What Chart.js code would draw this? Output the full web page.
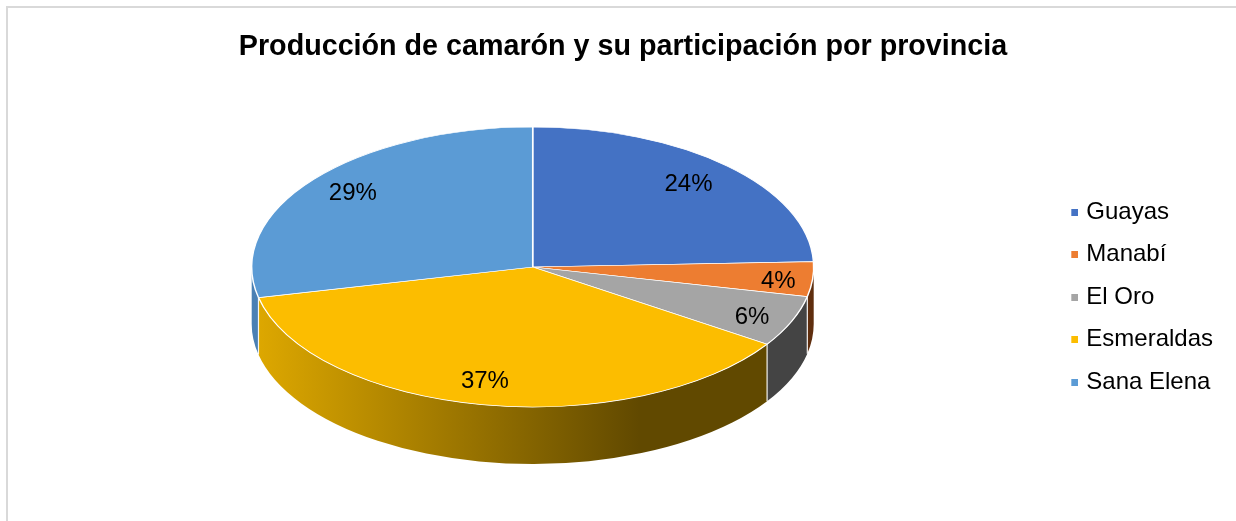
<!DOCTYPE html>
<html lang="es">
<head>
    <meta charset="UTF-8">
    <title>Producción de camarón</title>
    <script src="https://cdn.jsdelivr.net/npm/chart.js"></script>
    <style>
        html, body { margin: 0; padding: 0; background: white; overflow: hidden; }
        #frame { position: absolute; left: 6px; top: 6px; width: 1300px; height: 600px; border: 2px solid #d9d9d9; }
        #pie { position: absolute; left: 0; top: 0; }
    </style>
</head>
<body>
    <div id="frame"></div>
    <canvas id="pie" width="1236" height="521"></canvas>

    <script>
        const titleText = 'Producción de camarón y su participación por provincia';
        const provinces = ['Guayas', 'Manabí', 'El Oro', 'Esmeraldas', 'Sana Elena'];
        const shares = [24.4, 4.0, 5.9, 37.2, 28.5];
        const topColors = ['#4472c4', '#ed7d31', '#a5a5a5', '#fcbd00', '#5b9bd5'];
        const sideColors = ['#2a4578', '#5f2e0e', '#444444', null, '#4a80b4'];

        const fontName = '"Liberation Sans", Arial, sans-serif';
        const squash = 140 / 281;   // the pie is laid flat by scaling y
        const depth = 57;     // height of the rim
        const pieX = 532.7;   // where the centre of the flat pie ends up
        const pieY = 267;
        const labelShift = [[-4, -3], [16, 1], [7, 3], [-6, -2], [0, -5]];

        // legend marker: small square, sits at the right of a wider clear image
        function legendMarker(color) {
            const c = document.createElement('canvas');
            c.width = 13;
            c.height = 7;
            const g = c.getContext('2d');
            g.fillStyle = color;
            g.fillRect(6, 0, 7, 7);
            return c;
        }

        const pie3d = {
            id: 'pie3d',
            beforeDatasetsDraw(chart) {
                const ctx = chart.ctx;
                const arcs = chart.getDatasetMeta(0).data;
                const r = arcs[0].outerRadius;
                const ry = r * squash;

                // rim first, only the front half of the ellipse shows
                arcs.forEach((arc, i) => {
                    const a0 = Math.max(arc.startAngle, 0);
                    const a1 = Math.min(arc.endAngle, Math.PI);
                    if (a1 <= a0) return;
                    let fill = sideColors[i];
                    if (!fill) {
                        fill = ctx.createLinearGradient(pieX - r, 0, pieX + r * 0.84, 0);
                        fill.addColorStop(0, '#dfa900');
                        fill.addColorStop(0.75, '#614900');
                        fill.addColorStop(1, '#614900');
                    }
                    ctx.beginPath();
                    ctx.ellipse(pieX, pieY + depth, r, ry, 0, a0, a1, false);
                    ctx.ellipse(pieX, pieY, r, ry, 0, a1, a0, true);
                    ctx.closePath();
                    ctx.fillStyle = fill;
                    ctx.fill();
                });
                ctx.strokeStyle = 'rgba(255,255,255,0.9)';
                ctx.lineWidth = 1.2;
                arcs.forEach((arc) => {
                    const a = arc.endAngle;
                    if (a <= 0 || a >= Math.PI) return;
                    const x = pieX + r * Math.cos(a);
                    const y = pieY + ry * Math.sin(a);
                    ctx.beginPath();
                    ctx.moveTo(x, y);
                    ctx.lineTo(x, y + depth);
                    ctx.stroke();
                });

                ctx.save();
                ctx.translate(pieX - arcs[0].x, pieY);
                ctx.scale(1, squash);
                ctx.translate(0, -arcs[0].y);
            },
            afterDatasetsDraw(chart) {
                const ctx = chart.ctx;
                ctx.restore();

                const arcs = chart.getDatasetMeta(0).data;
                ctx.save();
                ctx.fillStyle = '#000000';
                ctx.font = '24px ' + fontName;
                ctx.textAlign = 'center';
                ctx.textBaseline = 'middle';
                arcs.forEach((arc, i) => {
                    const mid = (arc.startAngle + arc.endAngle) / 2;
                    const x = pieX + arc.outerRadius * 0.82 * Math.cos(mid);
                    const y = pieY + arc.outerRadius * squash * 0.82 * Math.sin(mid);
                    ctx.fillText(Math.round(shares[i]) + '%', x + labelShift[i][0], y + 3 + labelShift[i][1]);
                });
                ctx.restore();
            }
        };

        new Chart(document.getElementById('pie'), {
            type: 'pie',
            data: {
                labels: provinces,
                datasets: [{
                    data: shares,
                    backgroundColor: topColors,
                    borderColor: '#ffffff',
                    borderWidth: 1.5,
                    radius: 281,
                    clip: false
                }]
            },
            options: {
                responsive: false,
                animation: false,
                layout: { padding: { left: 23, right: 13 } },
                plugins: {
                    title: {
                        display: true,
                        text: titleText,
                        color: '#000000',
                        font: { family: fontName, size: 28.7, weight: 'bold' },
                        padding: { top: 30, bottom: 8.6 }
                    },
                    legend: {
                        position: 'right',
                        fullSize: false,
                        labels: {
                            color: '#000000',
                            font: { family: fontName, size: 24 },
                            usePointStyle: true,
                            boxWidth: 5,
                            boxHeight: 7,
                            pointStyleWidth: 5,
                            padding: 18.5,
                            generateLabels(chart) {
                                return Chart.overrides.pie.plugins.legend.labels.generateLabels(chart).map((item, i) => {
                                    item.pointStyle = legendMarker(topColors[i]);
                                    item.lineWidth = 0;
                                    return item;
                                });
                            }
                        }
                    },
                    tooltip: { enabled: false }
                }
            },
            plugins: [pie3d]
        });
    </script>
</body>
</html>
